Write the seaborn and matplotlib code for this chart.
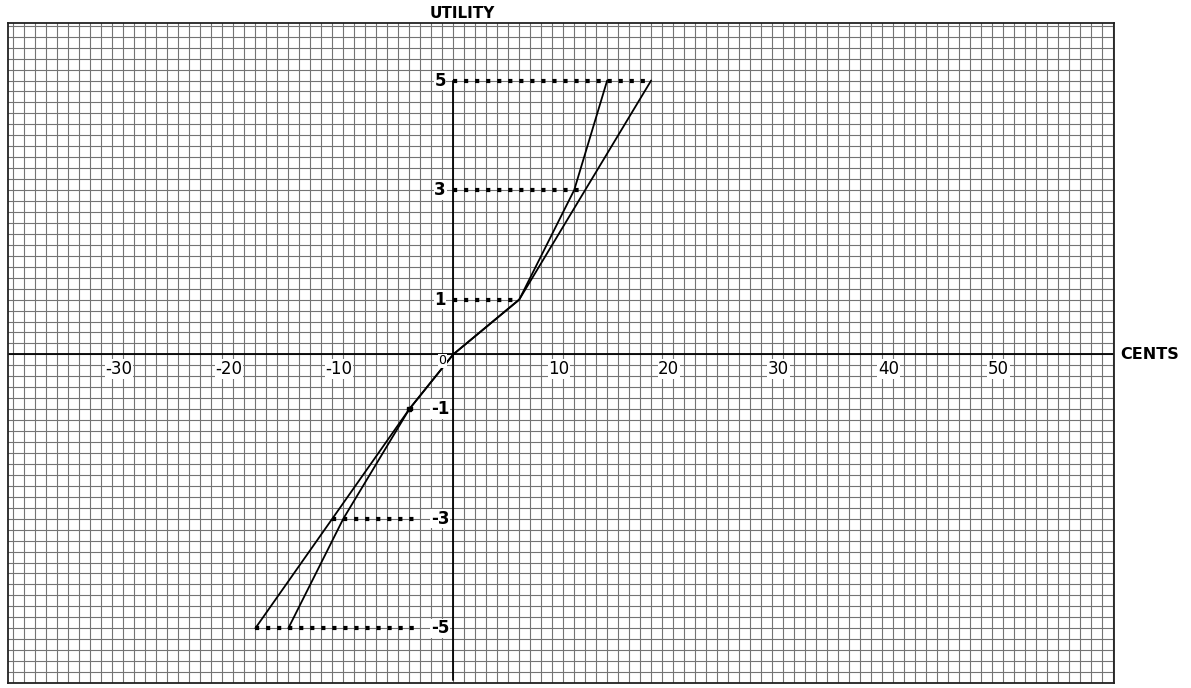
import numpy as np
import pandas as pd
import matplotlib
matplotlib.use("Agg")
import matplotlib.pyplot as plt
import seaborn as sns

# the two utility curves (cents, utility)
cents_a = [-18, -4, 0, 6, 18]
util_a = [-5, -1, 0, 1, 5]
cents_b = [-15, -10, -4, 0, 6, 11, 14]
util_b = [-5, -3, -1, 0, 1, 3, 5]

# dotted guide lines from the axis to the curves
levels = [5, 3, 1, -1, -3, -5]
level_labels = ["5", "3", "1", "-1", "-3", "-5"]
dot_start = [0, 0, 0, -4, -11, -18]
dot_end = [18, 12, 6, -3, -3, -3]

# numbers along the cents axis
x_ticks = [-30, -20, -10, 0, 10, 20, 30, 40, 50]
x_tick_labels = ["-30", "-20", "-10", "0", "10", "20", "30", "40", "50"]

curves = pd.concat([
    pd.DataFrame({"cents": cents_a, "utility": util_a, "curve": "a"}),
    pd.DataFrame({"cents": cents_b, "utility": util_b, "curve": "b"}),
])

sns.set_style("white")
plt.rcParams["font.family"] = ["DejaVu Sans"]
plt.rcParams["text.color"] = "black"

fig = plt.figure(figsize=(11.91, 6.88), dpi=100)
ax = fig.add_axes([8 / 1191, 5 / 688, 1106 / 1191, 660 / 688])

# graph paper
ax.set_xlim(-40.5, 60.1)
ax.set_ylim(-5.95, 6.05)
ax.set_xticks(np.arange(-40, 61, 1))
ax.set_yticks(np.arange(-6, 6.01, 0.2))
ax.tick_params(length=0, labelbottom=False, labelleft=False)
ax.grid(True, color="#747474", linewidth=0.8)
for s in ax.spines.values():
    s.set_color("#222222")
    s.set_linewidth(1.3)

# axes
ax.axhline(0, color="black", linewidth=1.3, zorder=2)
ax.plot([0, 0], [-5.95, 5], color="black", linewidth=1.3, zorder=2)

# dotted guides
for y, x0, x1 in zip(levels, dot_start, dot_end):
    ax.plot([x0, x1], [y, y], color="black", linewidth=3.0,
            linestyle=(0, (1.0, 1.65)), dash_capstyle="butt", zorder=3)

# curves
sns.lineplot(data=curves, x="cents", y="utility", units="curve", estimator=None,
             sort=False, color="black", linewidth=1.3, ax=ax, zorder=4)
ax.plot([-4], [-1], marker="s", markersize=3, color="black", zorder=5)
ax.set_xlabel("")
ax.set_ylabel("")

# level labels
for y, lab in zip(levels, level_labels):
    ax.text(-1.2, y, lab, ha="center", va="center", fontsize=12, fontweight="bold",
            bbox=dict(facecolor="white", edgecolor="none", pad=0.5), zorder=6)

# cents labels
for t, lab in zip(x_ticks, x_tick_labels):
    if t == 0:
        ax.text(-1.0, -0.12, lab, ha="center", va="center", fontsize=9,
                bbox=dict(facecolor="white", edgecolor="none", pad=0.3), zorder=6)
    else:
        ax.text(t - 0.4, -0.27, lab, ha="center", va="center", fontsize=12,
                bbox=dict(facecolor="white", edgecolor="none", pad=0.5), zorder=6)

ax.text(0.8, 6.08, "UTILITY", ha="center", va="bottom", fontsize=11, fontweight="bold",
        clip_on=False)
ax.text(60.7, 0, "CENTS", ha="left", va="center", fontsize=11.5, fontweight="bold",
        clip_on=False)

fig.savefig("out.png", dpi=100, facecolor="white")
